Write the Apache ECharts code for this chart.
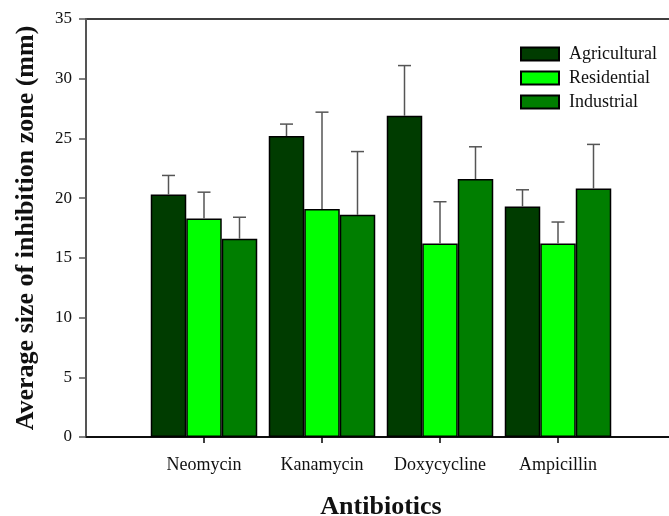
<!DOCTYPE html>
<html>
<head>
<meta charset="utf-8">
<script src="https://cdn.jsdelivr.net/npm/echarts@6/dist/echarts.min.js"></script>
<style>
  html, body { margin: 0; padding: 0; background: #fff; }
  #chart { width: 669px; height: 516px; }
</style>
</head>
<body>
<div id="chart"></div>
<script>
// antibiotics on the x axis, placed at 1..4
var antibiotics = ['Neomycin', 'Kanamycin', 'Doxycycline', 'Ampicillin'];
var groups = ['Agricultural', 'Residential', 'Industrial'];

// mean zone size (mm)
var agricultural = [20.3, 25.2, 26.9, 19.3];
var residential = [18.3, 19.1, 16.2, 16.2];
var industrial = [16.6, 18.6, 21.6, 20.8];

// upper error (sd)
var agriculturalErr = [1.6, 1.0, 4.2, 1.4];
var residentialErr = [2.2, 8.1, 3.5, 1.8];
var industrialErr = [1.8, 5.3, 2.7, 3.7];

var yTicks = [0, 5, 10, 15, 20, 25, 30, 35];

var colors = ['#003c00', '#00ff00', '#007e00'];
var barW = 35.5;
var serif = 'Liberation Serif';

var means = [agricultural, residential, industrial];
var errs = [agriculturalErr, residentialErr, industrialErr];

var series = [];
groups.forEach(function (name, i) {
    series.push({
        name: name,
        type: 'bar',
        barWidth: barW,
        barGap: '0%',
        itemStyle: {color: colors[i], borderColor: '#000', borderWidth: 1.5},
        data: means[i].map(function (v, j) { return [j + 1, v]; }),
        z: 2
    });
});

// error bars, upward whisker only
groups.forEach(function (name, i) {
    var shift = (i - 1) * barW;
    series.push({
        type: 'custom',
        data: means[i].map(function (v, j) { return [j + 1, v, errs[i][j]]; }),
        z: 3,
        silent: true,
        renderItem: function (params, api) {
            var x = api.value(0), m = api.value(1), e = api.value(2);
            var p0 = api.coord([x, m]);
            var p1 = api.coord([x, m + e]);
            var cx = p0[0] + shift;
            var st = {stroke: '#555', lineWidth: 1.5};
            return {
                type: 'group',
                children: [
                    {type: 'line', shape: {x1: cx, y1: p0[1], x2: cx, y2: p1[1]}, style: st},
                    {type: 'line', shape: {x1: cx - 6.5, y1: p1[1], x2: cx + 6.5, y2: p1[1]}, style: st}
                ]
            };
        }
    });
});

var myChart = echarts.init(document.getElementById('chart'));
myChart.setOption({
    animation: false,
    grid: {
        left: 86, top: 19, bottom: 79, right: -7,
        outerBoundsMode: 'none',
        show: true, borderColor: '#000', borderWidth: 1.5
    },
    legend: {
        data: groups,
        icon: 'rect',
        orient: 'vertical',
        left: 520,
        top: 45,
        padding: 0,
        itemWidth: 38,
        itemHeight: 13,
        itemGap: 6,
        textStyle: {fontFamily: serif, fontSize: 18, color: '#111', padding: [0, 0, 0, 5]}
    },
    xAxis: {
        type: 'value',
        min: 0,
        max: 5,
        interval: 1,
        name: 'Antibiotics',
        nameLocation: 'middle',
        nameGap: 57,
        nameTextStyle: {fontFamily: serif, fontSize: 26, fontWeight: 'bold', color: '#111'},
        splitLine: {show: false},
        axisLine: {lineStyle: {color: '#000', width: 1.5}},
        axisTick: {customValues: [1, 2, 3, 4], length: 6, lineStyle: {color: '#000', width: 1.5}},
        axisLabel: {
            customValues: [1, 2, 3, 4],
            margin: 19,
            fontFamily: serif, fontSize: 18, color: '#111',
            formatter: function (v) { return antibiotics[v - 1] || ''; }
        }
    },
    yAxis: {
        type: 'value',
        min: 0,
        max: 35,
        interval: 5,
        name: 'Average size of inhibition zone (mm)',
        nameLocation: 'middle',
        nameGap: 47,
        nameTextStyle: {fontFamily: serif, fontSize: 26, fontWeight: 'bold', color: '#111'},
        splitLine: {show: false},
        axisLine: {show: true, lineStyle: {color: '#555', width: 2}},
        axisTick: {show: true, length: 7, lineStyle: {color: '#555', width: 1.5}},
        axisLabel: {
            customValues: yTicks,
            margin: 14, fontFamily: serif, fontSize: 17, color: '#111'
        }
    },
    series: series
});
</script>
</body>
</html>
